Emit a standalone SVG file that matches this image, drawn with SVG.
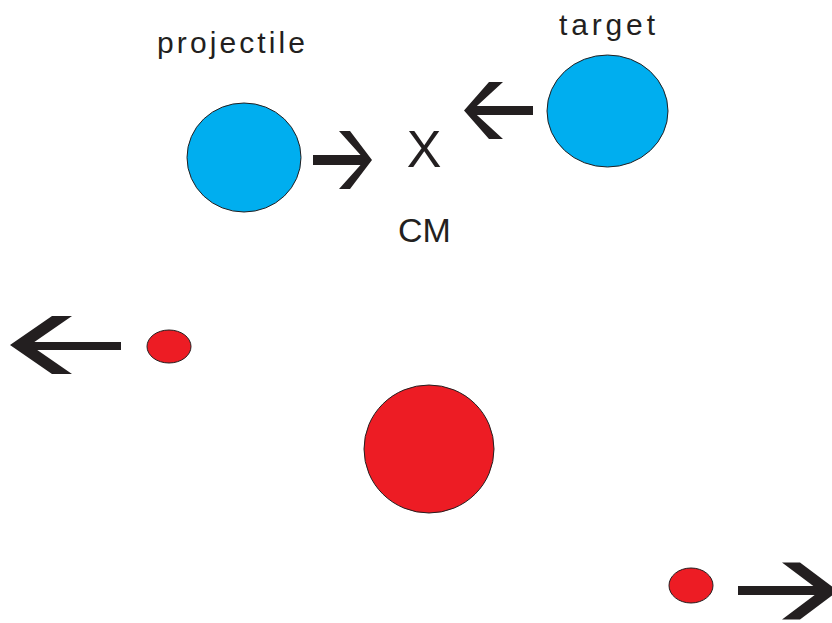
<svg xmlns="http://www.w3.org/2000/svg" width="832" height="623" viewBox="0 0 832 623">
  <style>
    .blue { fill: #00AEEF; stroke: #231F20; stroke-width: 1; }
    .red { fill: #ED1C24; stroke: #231F20; stroke-width: 1; }
    .arrow { fill: #231F20; stroke: none; }
    .label { font-family: "Liberation Sans", Arial, sans-serif; fill: #231F20; }
  </style>
  <rect width="832" height="623" fill="#FFFFFF"/>

  <!-- Before collision -->
  <g id="projectile">
    <ellipse class="blue" cx="244" cy="157.5" rx="57" ry="54.5"/>
    <text class="label" x="157" y="53" font-size="30" textLength="148">projectile</text>
  </g>
  <g id="target">
    <ellipse class="blue" cx="607.5" cy="111" rx="60.5" ry="56"/>
    <text class="label" x="559" y="35" font-size="30" textLength="96">target</text>
  </g>
  <g id="cm">
    <text class="label" x="424" y="167" font-size="52" text-anchor="middle">X</text>
    <text class="label" x="424.5" y="242" font-size="34" text-anchor="middle">CM</text>
  </g>

  <!-- After collision -->
  <g id="fragment-left">
    <ellipse class="red" cx="169" cy="346.5" rx="22" ry="16.5"/>
  </g>
  <g id="compound">
    <ellipse class="red" cx="429" cy="449" rx="65" ry="64"/>
  </g>
  <g id="fragment-right">
    <ellipse class="red" cx="691" cy="585.5" rx="22" ry="17.5"/>
  </g>

  <!-- Velocity arrows -->
  <g id="connectors">
    <g id="arrow-projectile">
      <rect class="arrow" x="313" y="155" width="53" height="10"/>
      <polygon class="arrow" points="372,160 350,131 339,131 365,160 339,189 350,189"/>
    </g>
    <g id="arrow-target">
      <rect class="arrow" x="470" y="106" width="63" height="9"/>
      <polygon class="arrow" points="464,110.5 489,82 503,82 472,110.5 503,139 489,139"/>
    </g>
    <g id="arrow-fragment-left">
      <rect class="arrow" x="24" y="342" width="97" height="8"/>
      <polygon class="arrow" points="10,345 52,316 72,316 30,345 72,374 52,374"/>
    </g>
    <g id="arrow-fragment-right">
      <rect class="arrow" x="738" y="586" width="84" height="9"/>
      <polygon class="arrow" points="838,591 800,562.5 782,562.5 820,591 782,619.5 800,619.5"/>
    </g>
  </g>
</svg>
